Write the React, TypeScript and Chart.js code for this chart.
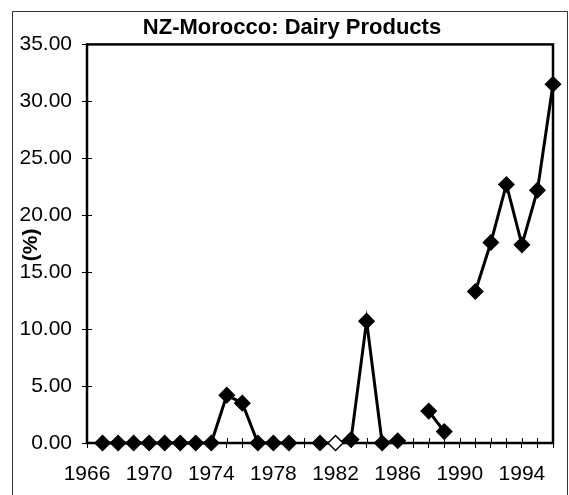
import { useEffect, useRef } from "react";
import { Chart, registerables } from "chart.js";

Chart.register(...registerables);

const TITLE = "NZ-Morocco: Dairy Products";
const Y_LABEL = "(%)";

const years: string[] = [
  "1966", "1967", "1968", "1969", "1970", "1971", "1972", "1973", "1974", "1975",
  "1976", "1977", "1978", "1979", "1980", "1981", "1982", "1983", "1984", "1985",
  "1986", "1987", "1988", "1989", "1990", "1991", "1992", "1993", "1994", "1995", "1996",
];

const shares: (number | null)[] = [
  null, 0, 0, 0, 0, 0, 0, 0, 0, 4.2,
  3.5, 0, 0, 0, null, 0, 0, 0.3, 10.7, 0,
  0.2, null, 2.8, 1.0, null, 13.3, 17.6, 22.7, 17.4, 22.2, 31.5,
];

// years whose marker is drawn hollow in the source
const hollowYears: string[] = ["1982"];

const labelYears: string[] = ["1966", "1970", "1974", "1978", "1982", "1986", "1990", "1994"];

const Y_MIN = 0;
const Y_MAX = 35;
const Y_STEP = 5;

const FONT = '"Liberation Sans", Arial, Helvetica, sans-serif';

export default function App() {
  const ref = useRef<HTMLCanvasElement>(null);

  useEffect(() => {
    if (!ref.current) return;

    const framePlugin = {
      id: "frames",
      beforeDraw(chart: any) {
        const ctx = chart.ctx;
        ctx.save();
        ctx.fillStyle = "#ffffff";
        ctx.fillRect(0, 0, chart.width, chart.height);
        // outer chart frame
        ctx.strokeStyle = "#333333";
        ctx.lineWidth = 1;
        ctx.beginPath();
        ctx.moveTo(12.5, chart.height + 2);
        ctx.lineTo(12.5, 11.5);
        ctx.lineTo(chart.width - 1.5, 11.5);
        ctx.lineTo(chart.width - 1.5, chart.height + 2);
        ctx.stroke();
        ctx.restore();
      },
      beforeDatasetsDraw(chart: any) {
        const ctx = chart.ctx;
        const a = chart.chartArea;
        ctx.save();
        ctx.strokeStyle = "#000000";
        // inner halves of the crossing tick marks
        ctx.lineWidth = 1;
        const xs = chart.scales.x;
        const ys = chart.scales.y;
        ctx.beginPath();
        for (let i = 0; i < xs.ticks.length; i++) {
          const px = Math.round(xs.getPixelForTick(i)) + 0.5;
          ctx.moveTo(px, a.bottom);
          ctx.lineTo(px, a.bottom - 5);
        }
        for (let i = 0; i < ys.ticks.length; i++) {
          const py = Math.round(ys.getPixelForTick(i)) + 0.5;
          ctx.moveTo(a.left, py);
          ctx.lineTo(a.left + 5, py);
        }
        ctx.stroke();
        // plot area frame
        ctx.lineWidth = 2.5;
        ctx.strokeRect(a.left, a.top, a.right - a.left, a.bottom - a.top);
        // rotated axis label overlapping the tick labels
        ctx.fillStyle = "#000000";
        ctx.font = `bold 21px ${FONT}`;
        ctx.textAlign = "center";
        ctx.textBaseline = "middle";
        ctx.translate(a.left - 56, ys.getPixelForValue(17.4));
        ctx.rotate(-Math.PI / 2);
        ctx.fillText(Y_LABEL, 0, 0);
        ctx.restore();
      },
    };

    const chart = new Chart(ref.current, {
      type: "line",
      data: {
        labels: years,
        datasets: [
          {
            label: "Dairy Products",
            data: shares,
            borderColor: "#000000",
            backgroundColor: "#000000",
            borderWidth: 3,
            pointStyle: "rectRot",
            pointRadius: 7.5,
            pointHoverRadius: 7.5,
            pointBorderWidth: 1.5,
            pointBorderColor: "#000000",
            pointBackgroundColor: years.map((y) => (hollowYears.includes(y) ? "#ffffff" : "#000000")),
            spanGaps: false,
            tension: 0,
            clip: false as any,
          },
        ],
      },
      options: {
        animation: false,
        responsive: true,
        maintainAspectRatio: false,
        layout: { padding: { left: 15, right: 0, top: 4, bottom: 0 } },
        plugins: {
          legend: { display: false },
          tooltip: { enabled: false },
          title: {
            display: true,
            text: TITLE,
            color: "#000000",
            font: { family: FONT, size: 22, weight: "bold" },
            padding: { top: 11, bottom: 3 },
          },
        },
        scales: {
          x: {
            type: "category",
            offset: false,
            grid: {
              display: true,
              drawOnChartArea: false,
              drawTicks: true,
              tickLength: 5,
              color: "#000000",
              lineWidth: 1,
            },
            border: { display: false },
            ticks: {
              autoSkip: false,
              maxRotation: 0,
              minRotation: 0,
              padding: 14,
              color: "#000000",
              font: { family: FONT, size: 21 },
              callback: function (this: any, value: any) {
                const lab = this.getLabelForValue(value);
                return labelYears.includes(lab) ? lab : "";
              },
            },
            afterFit(scale: any) {
              scale.height = 52;
            },
          },
          y: {
            min: Y_MIN,
            max: Y_MAX,
            grid: {
              display: true,
              drawOnChartArea: false,
              drawTicks: true,
              tickLength: 5,
              color: "#000000",
              lineWidth: 1,
            },
            border: { display: false },
            ticks: {
              stepSize: Y_STEP,
              padding: 10,
              color: "#000000",
              font: { family: FONT, size: 21 },
              callback: (v: any) => Number(v).toFixed(2),
            },
            afterFit(scale: any) {
              scale.width = 72;
            },
          },
          yRight: {
            position: "right",
            min: Y_MIN,
            max: Y_MAX,
            grid: { display: false, drawTicks: false },
            border: { display: false },
            ticks: { display: false },
            afterFit(scale: any) {
              scale.width = 16;
            },
          },
        },
      },
      plugins: [framePlugin],
    });

    return () => chart.destroy();
  }, []);

  return (
    <div style={{ position: "absolute", left: 0, top: 0, width: 569, height: 495 }}>
      <canvas ref={ref} />
    </div>
  );
}
